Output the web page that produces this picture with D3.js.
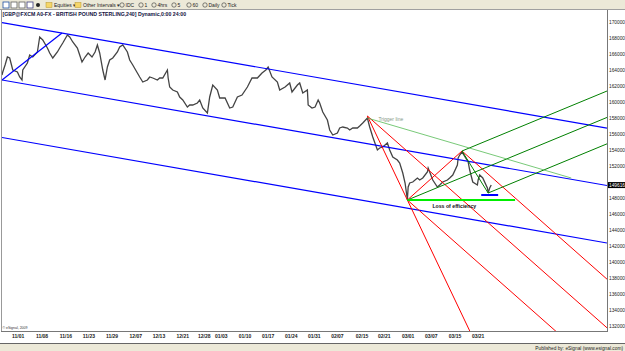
<!DOCTYPE html>
<html><head><meta charset="utf-8">
<script src="https://cdn.jsdelivr.net/npm/d3@7"></script>
<style>body{margin:0;background:#fff;overflow:hidden} text{font-family:"Liberation Sans",Arial,sans-serif}</style>
</head><body><svg id="c" width="625" height="351"></svg>
<script>
// ---- data (bar index = 240-minute bars, price in points) ----
const bars = [0,1,4,7,10,14,20,23,26,27,33,36,40,46,49,53,59,62,66,72,75,79,85,88,92,98,101,104,108,112,117,121,124,127,131,134,137,140,144,150,153,157,163,166,170,176,179,183,189,192,196,202,205,209,215,216,218,222,228,231,235,241,244,248,254,257,261,267,270,274,280,283,290,296,300,306,312,319,325,332,338,343,346,351,358,361,368,374,377,384,387,391,397,398,403,407,411,413,417,423,426,430,436,439,443,449,452,456,462,465,469,475,478,482,488,491,495,501,504,508,514,517,521,524,527,528,530,534,540,543,547,553,554,556,560,566,569,573,579,582,586,592,593,595,598,602,606,608,612,618,619,621,625,631,632,634,636];
const prices = [163375,163750,164625,165625,165500,164000,163750,163125,162750,164000,164875,165875,165625,166250,168125,167750,166750,166125,165500,166250,166750,167375,168375,168125,167500,166750,165875,165000,165625,166125,165625,166250,167125,166125,164000,162750,164375,165250,165500,166250,166875,167125,166250,165250,164625,163625,163125,162500,162750,163125,163000,162750,163000,163000,164000,163000,161875,161500,161250,160625,160250,159375,159625,159625,159875,160250,159250,158625,160625,162125,161500,160500,160500,159250,159375,160625,160875,161875,163000,163000,163625,164000,164375,163125,162500,161500,161875,162375,161250,162125,162375,161125,161500,159625,159250,159375,160250,159875,158750,157750,156500,155875,156125,156750,156875,156750,156500,156750,156750,157000,157375,158000,156875,155625,154000,154250,154375,154875,154000,153125,152750,152375,151125,149875,147800,149375,149875,150000,150500,150250,150500,151250,151750,151250,150250,149375,149625,150000,150250,150500,150875,152125,153000,153375,153750,153125,152500,151500,150000,149625,150250,150875,150500,149250,148625,149250,149616];
const tickLabels = ["11/01","11/08","11/16","11/23","11/29","12/07","12/13","12/21","12/28","01/03","01/10","01/17","01/24","01/31","02/07","02/15","02/21","03/01","03/07","03/15","03/21"];
const tickBars = [21,52,83,113,143,174,204,235,263,285,316,346,376,406,436,468,497,528,558,589,619];
const priceTicks = [170000,168000,166000,164000,162000,160000,158000,156000,154000,152000,148000,146000,144000,142000,140000,138000,136000,134000,132000];
const lastPrice = 149616;
// blue channel: start, peak, far point on upper line
const blueStart = [0,162750];
const bluePeak = [78,168625];
const blueUpperEnd = [786,156750];
// red pitchfork pivots: trigger peak, low, peak
const redPivots = [[475,158250],[527,147750],[598,153875]];
// green pitchfork pivots: low, peak, latest low
const greenPivots = [[527,147750],[598,153875],[632,148625]];
const triggerLine = [[475,158000],[740,150500]];
const lossLine = [[527,147750],[667,147750]];
const supportLine = [[623,148375],[645,148375]];
const title = "[GBP@FXCM A0-FX - BRITISH POUND STERLING,240] Dynamic,0:00 24:00";

// ---- drawing ----
const svg = d3.select("#c");
const W=625,H=351, L=2, R=607, T=10, B=331;
const x = d3.scaleLinear().domain([0,786.5]).range([L,R]);
const y = d3.scaleLinear().domain([170000,132000]).range([22,326]);
const xEnd = 786.5;

// toolbar
svg.append("rect").attr("x",0).attr("y",0).attr("width",W).attr("height",T).attr("fill","#ece9d8");
svg.append("line").attr("x1",0).attr("x2",W).attr("y1",T-0.5).attr("y2",T-0.5).attr("stroke","#a0a0a0");
const tb = svg.append("g");
[[2,"#2050a0"],[10,"#606060"],[18,"#606060"],[26,"#404080"]].forEach(([ix,c])=>{
  tb.append("rect").attr("x",ix+1).attr("y",2).attr("width",6).attr("height",6).attr("fill","#fff").attr("stroke",c).attr("stroke-width",0.8);
});
tb.append("circle").attr("cx",38).attr("cy",5).attr("r",2).attr("fill","#222");
[[46,"Equities ▾"],[75,"Other Intervals ▾"]].forEach(([ix,t])=>{
  tb.append("rect").attr("x",ix).attr("y",2.5).attr("width",6).attr("height",5).attr("fill","#f5d66a").attr("stroke","#b8962a").attr("stroke-width",0.5);
  tb.append("text").attr("x",ix+8).attr("y",7.3).attr("font-size",5).attr("fill","#222").text(t);
});
[[120,"IDC"],[139,"1"],[152,"4hrs"],[172,"5"],[187,"60"],[203,"Daily"],[222,"Tick"]].forEach(([ix,t])=>{
  tb.append("circle").attr("cx",ix+2).attr("cy",5).attr("r",2.2).attr("fill","none").attr("stroke","#333").attr("stroke-width",0.6);
  tb.append("text").attr("x",ix+5.5).attr("y",7.3).attr("font-size",5).attr("fill","#222").text(t);
});

// frame
svg.append("line").attr("x1",1.5).attr("x2",1.5).attr("y1",T).attr("y2",B).attr("stroke","#999");
svg.append("line").attr("x1",R+0.5).attr("x2",R+0.5).attr("y1",T).attr("y2",B+1).attr("stroke","#777");
svg.append("line").attr("x1",1).attr("x2",R+1).attr("y1",B+0.5).attr("y2",B+0.5).attr("stroke","#777");
svg.append("line").attr("x1",0).attr("x2",W).attr("y1",343.5).attr("y2",343.5).attr("stroke","#666");
svg.append("rect").attr("x",0).attr("y",344).attr("width",W).attr("height",7).attr("fill","#ece9d8");
svg.append("text").attr("x",623).attr("y",349.5).attr("text-anchor","end").attr("font-size",4.8).attr("fill","#222").text("Published by: eSignal (www.esignal.com)");

svg.append("defs").append("clipPath").attr("id","clip").append("rect").attr("x",L).attr("y",T).attr("width",R-L).attr("height",B-T);
const g = svg.append("g").attr("clip-path","url(#clip)");

// title
svg.append("text").attr("x",2.5).attr("y",15.5).attr("font-size",5.2).attr("font-weight","bold").attr("fill","#101040").text(title);

// price series
const pts = bars.map((b,i)=>[b,prices[i]]);
g.append("path").datum(pts).attr("fill","none").attr("stroke","#444").attr("stroke-width",1.3)
 .attr("stroke-linejoin","miter")
 .attr("d",d3.line().x(d=>x(d[0])).y(d=>y(d[1])));

function seg(p,q,color,w,op){
  g.append("line").attr("x1",x(p[0])).attr("y1",y(p[1])).attr("x2",x(q[0])).attr("y2",y(q[1]))
   .attr("stroke",color).attr("stroke-width",w||1).attr("opacity",op==null?1:op);
}
function ray(p,slope,color,w){ seg(p,[xEnd,p[1]+slope*(xEnd-p[0])],color,w); }

// blue channel
const bSlope = (blueUpperEnd[1]-bluePeak[1])/(blueUpperEnd[0]-bluePeak[0]);
const upperAt0 = bluePeak[1]-bSlope*(bluePeak[0]-blueStart[0]);
const gap = upperAt0-blueStart[1];
seg(blueStart,bluePeak,"#0000ff",1.2);
ray([0,upperAt0],bSlope,"#0000ff",1.2);
ray(blueStart,bSlope,"#0000ff",1.2);
ray([0,blueStart[1]-gap],bSlope,"#0000ff",1.2);

// andrews pitchforks
function fork(pv,color,leg){
  const [a,b,c]=pv; const m=[(b[0]+c[0])/2,(b[1]+c[1])/2];
  const s=(m[1]-a[1])/(m[0]-a[0]);
  ray(a,s,color,1); ray(b,s,color,1); ray(c,s,color,1); seg(b,c,color,1);
  if(leg){ ray(a,(b[1]-a[1])/(b[0]-a[0]),color,1); }
}
fork(redPivots,"#ff0000",true);
fork(greenPivots,"#008000",false);

// trigger line
seg(triggerLine[0],triggerLine[1],"#55bb55",0.8);
g.append("text").attr("x",x(triggerLine[0][0])+11).attr("y",y(triggerLine[0][1])+3).attr("font-size",5).attr("fill","#889988").text("Trigger line");
// loss of efficiency
seg(lossLine[0],lossLine[1],"#00ee00",2);
g.append("text").attr("x",x(lossLine[0][0])+25).attr("y",y(lossLine[0][1])+8).attr("font-size",5.2).attr("font-weight","bold").attr("fill","#111").text("Loss of efficiency");
seg(supportLine[0],supportLine[1],"#0000ff",2);

// right axis
const ax = svg.append("g");
priceTicks.forEach(v=>{
  ax.append("text").attr("x",609).attr("y",y(v)+1.8).attr("font-size",4.8).attr("fill","#222").text(v);
});
ax.append("rect").attr("x",608).attr("y",y(lastPrice)-3).attr("width",17).attr("height",6).attr("fill","#000");
ax.append("text").attr("x",609).attr("y",y(lastPrice)+1.8).attr("font-size",4.8).attr("fill","#fff").text(lastPrice);

// bottom axis
tickBars.forEach((b,i)=>{
  svg.append("text").attr("x",x(b)).attr("y",337.5).attr("text-anchor","middle").attr("font-size",5).attr("font-weight","bold").attr("fill","#222").text(tickLabels[i]);
});
svg.append("text").attr("x",2.5).attr("y",329).attr("font-size",3.5).attr("fill","#333").text("© eSignal, 2009");
</script></body></html>
